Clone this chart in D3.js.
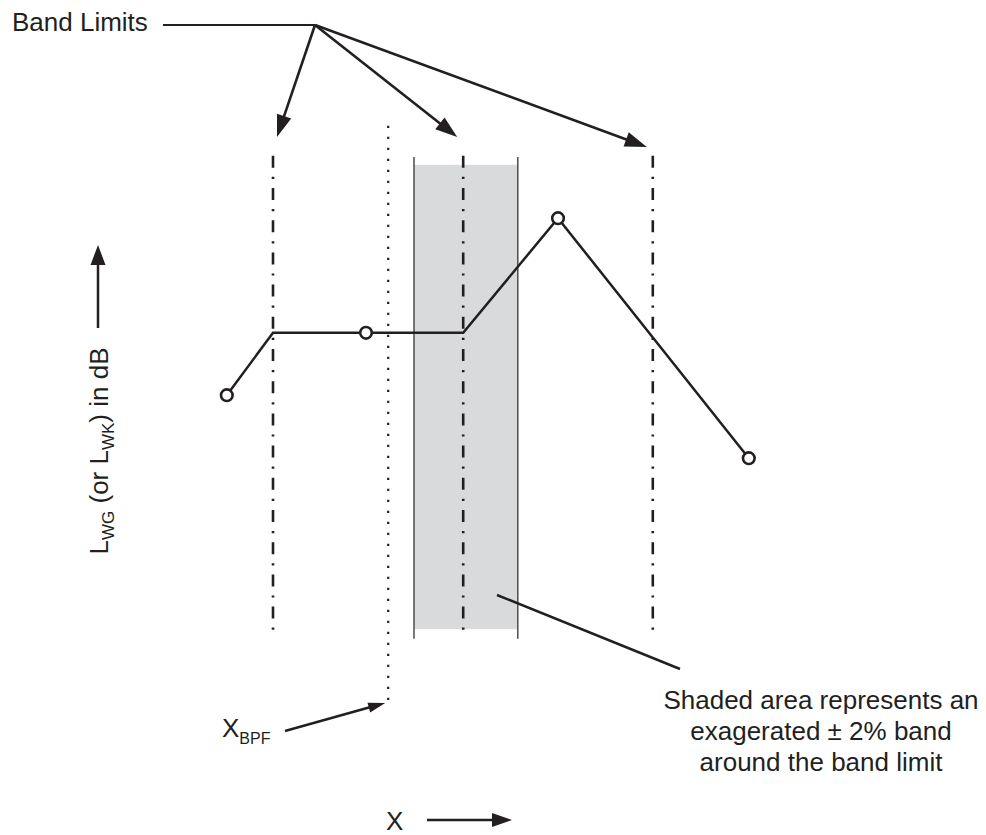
<!DOCTYPE html>
<html>
<head>
<meta charset="utf-8">
<script src="https://cdn.jsdelivr.net/npm/d3@7"></script>
<style>
  html, body { margin: 0; padding: 0; background: #fff; }
  svg { display: block; }
  text { font-family: "Liberation Sans", Arial, Helvetica, sans-serif; fill: #231f20; }
</style>
</head>
<body>
<svg id="chart" width="986" height="835"></svg>
<script>
// ---------- data (abstract units) ----------
const bandLimits = [15.5, 47.2, 78.8];          // x of band-limit lines
const bandLimitExtent = [11.7, 90.7];            // y extent of band-limit lines
const xBPF = [34.7];                             // x of X_BPF dotted line
const xBPFExtent = [-1.2, 95.7];
const shadeBand = [39.0, 56.3];                  // shaded ±2% band
const shadeExtent = [11.8, 89.2];
const shadeBorderExtent = [10.2, 90.5];
const lineX = [7.8, 15.5, 31.0, 47.2, 63.0, 94.8];
const lineY = [50.8, 61.2, 61.2, 61.2, 80.3, 40.3];
const markerIdx = [0, 2, 4, 5];                  // points drawn as open circles

const bandLimitsLabel = "Band Limits";
const xLabel = "X";
const yLabelParts = [["L", false], ["WG", true], [" (or L", false], ["WK", true], [") in dB", false]];
const xbpfLabel = [["X", false], ["BPF", true]];
const shadeNote = ["Shaded area represents an", "exagerated \u00b1 2% band", "around the band limit"];

// ---------- scales ----------
const x = d3.scaleLinear().domain([0, 100]).range([180, 780]);
const y = d3.scaleLinear().domain([0, 100]).range([700, 100]);

const ink = "#231f20";
const svg = d3.select("#chart");

// arrowhead helper
function arrow(g, x1, y1, x2, y2, len, wid, sw) {
  const a = Math.atan2(y2 - y1, x2 - x1);
  const bx = x2 - len * Math.cos(a), by = y2 - len * Math.sin(a);
  g.append("line").attr("x1", x1).attr("y1", y1).attr("x2", bx + Math.cos(a)).attr("y2", by + Math.sin(a))
    .attr("stroke", ink).attr("stroke-width", sw);
  const px = -Math.sin(a) * wid / 2, py = Math.cos(a) * wid / 2;
  g.append("path").attr("d", `M${x2},${y2}L${bx + px},${by + py}L${bx - px},${by - py}Z`).attr("fill", ink);
}

// ---------- shaded band ----------
svg.append("rect")
  .attr("x", x(shadeBand[0])).attr("width", x(shadeBand[1]) - x(shadeBand[0]))
  .attr("y", y(shadeExtent[1])).attr("height", y(shadeExtent[0]) - y(shadeExtent[1]))
  .attr("fill", "#d9dadc");
svg.selectAll(".shadeBorder").data(shadeBand).join("line")
  .attr("x1", d => x(d)).attr("x2", d => x(d))
  .attr("y1", y(shadeBorderExtent[1])).attr("y2", y(shadeBorderExtent[0]))
  .attr("stroke", "#4d4d4f").attr("stroke-width", 1.5);

// ---------- band limit lines (dash-dot) ----------
svg.selectAll(".band").data(bandLimits).join("line")
  .attr("x1", d => x(d)).attr("x2", d => x(d))
  .attr("y1", y(bandLimitExtent[1])).attr("y2", y(bandLimitExtent[0]))
  .attr("stroke", ink).attr("stroke-width", 2.6)
  .attr("stroke-dasharray", "12,9,2.2,9");

// ---------- X_BPF dotted line ----------
svg.selectAll(".bpf").data(xBPF).join("line")
  .attr("x1", d => x(d)).attr("x2", d => x(d))
  .attr("y1", y(xBPFExtent[1])).attr("y2", y(xBPFExtent[0]))
  .attr("stroke", ink).attr("stroke-width", 2.2)
  .attr("stroke-dasharray", "2.2,8.8");

// ---------- data line ----------
const pts = lineX.map((v, i) => [v, lineY[i]]);
svg.append("path").datum(pts)
  .attr("d", d3.line().x(d => x(d[0])).y(d => y(d[1])))
  .attr("fill", "none").attr("stroke", ink).attr("stroke-width", 2.5)
  .attr("stroke-linejoin", "miter");
svg.selectAll(".pt").data(markerIdx.map(i => pts[i])).join("circle")
  .attr("cx", d => x(d[0])).attr("cy", d => y(d[1])).attr("r", 5.8)
  .attr("fill", "#fff").attr("stroke", ink).attr("stroke-width", 2.6);

// ---------- Band Limits annotation ----------
const ann = svg.append("g");
ann.append("text").attr("x", 12).attr("y", 31).attr("font-size", 26).text(bandLimitsLabel);
const hub = [315, 25];
ann.append("line").attr("x1", 163).attr("y1", hub[1]).attr("x2", hub[0]).attr("y2", hub[1])
  .attr("stroke", ink).attr("stroke-width", 2.2);
const tips = [[x(bandLimits[0]) + 4, 137], [x(bandLimits[1]) - 6, 137], [x(bandLimits[2]) - 6, 147]];
tips.forEach(t => arrow(ann, hub[0], hub[1], t[0], t[1], 22, 15, 2.6));

// ---------- Y label ----------
const yl = svg.append("text").attr("font-size", 26)
  .attr("transform", "translate(108,451) rotate(-90)").attr("text-anchor", "middle");
yLabelParts.forEach(([t, sub]) => {
  const ts = yl.append("tspan").text(t);
  if (sub) ts.attr("font-size", 17).attr("dy", 6);
  else ts.attr("dy", yl.selectAll("tspan").size() > 1 ? -6 : 0);
});
arrow(svg, 98, 328, 98, 245, 20, 15, 2.5);

// ---------- X label ----------
svg.append("text").attr("x", 386).attr("y", 830).attr("font-size", 26).text(xLabel);
arrow(svg, 427, 820, 512, 820, 20, 14, 2.5);

// ---------- X_BPF label ----------
const xb = svg.append("text").attr("x", 222).attr("y", 737).attr("font-size", 26);
xb.append("tspan").text(xbpfLabel[0][0]);
xb.append("tspan").text(xbpfLabel[1][0]).attr("font-size", 16).attr("dy", 7);
arrow(svg, 285, 731, x(xBPF[0]) - 3, 703, 17, 10, 2.5);

// ---------- shade note ----------
svg.append("line").attr("x1", 497).attr("y1", 595).attr("x2", 680).attr("y2", 669)
  .attr("stroke", ink).attr("stroke-width", 2.5);
svg.append("text").attr("font-size", 26).attr("text-anchor", "middle")
  .selectAll("tspan").data(shadeNote).join("tspan")
  .attr("x", 821).attr("y", (d, i) => 709 + i * 31).text(d => d);
</script>
</body>
</html>
